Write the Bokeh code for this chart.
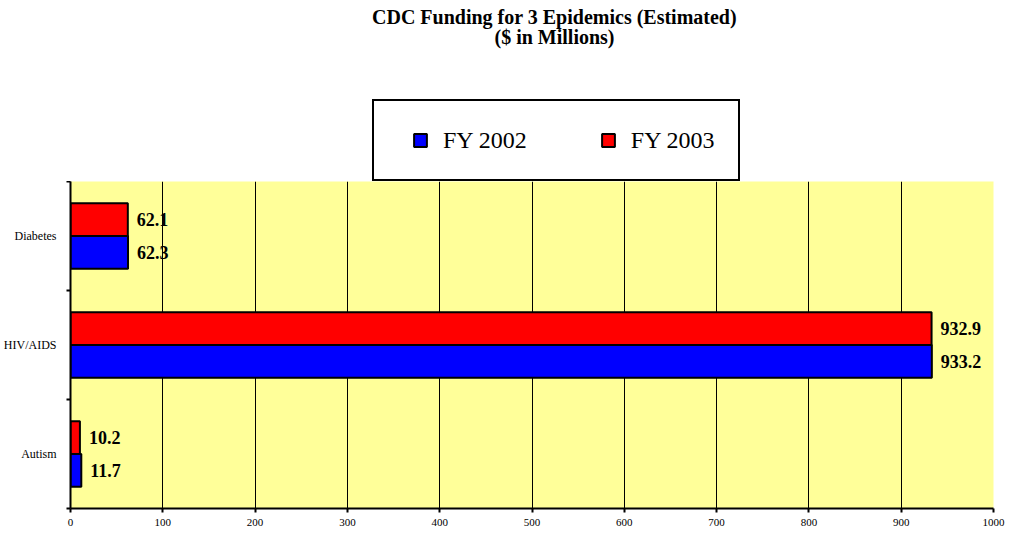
import numpy as np
from bokeh.plotting import figure
from bokeh.layouts import column
from bokeh.models import (ColumnDataSource, FixedTicker, LabelSet, Label,
                          Legend, LegendItem, Range1d)
from bokeh.transform import dodge
from bokeh.embed import file_html
from bokeh.resources import INLINE

# ---- data (bottom to top) ----
categories = ["Autism", "HIV/AIDS", "Diabetes"]
fy2002 = [11.7, 933.2, 62.3]
fy2003 = [10.2, 932.9, 62.1]
series_names = ["FY 2002", "FY 2003"]
x_ticks = [0, 100, 200, 300, 400, 500, 600, 700, 800, 900, 1000]
title_lines = ["CDC Funding for 3 Epidemics (Estimated)", "($ in Millions)"]
colors = ["#0000FF", "#FF0000"]

SERIF = "Liberation Serif"
W = 1006
HEAD_H = 181
MAIN_H = 354
BL, BR = 63, 13
pos = [i + 0.5 for i in range(len(categories))]

src = ColumnDataSource(dict(
    cat=categories, y=pos, fy2002=fy2002, fy2003=fy2003,
    lab02=[f"{v:.1f}" for v in fy2002], lab03=[f"{v:.1f}" for v in fy2003],
))

# ---------- header: title + legend ----------
head = figure(width=W, height=HEAD_H, x_range=Range1d(0, 1), y_range=Range1d(0, 1),
              output_backend="svg", toolbar_location=None, title=None,
              x_axis_type=None, y_axis_type=None,
              min_border_left=BL, min_border_right=BR, min_border_top=0, min_border_bottom=0)
head.grid.visible = False
head.outline_line_color = None
head.background_fill_color = "white"
head.border_fill_color = "white"

# screen units are measured from the frame's lower-left corner
for txt, yy in zip(title_lines, (164.5, 145)):
    head.add_layout(Label(x=484, y=yy, x_units="screen", y_units="screen", text=txt,
                          text_align="center", text_baseline="middle",
                          text_font=SERIF, text_font_style="bold", text_font_size="20px",
                          text_color="black"))

# hidden helper renderers that only supply the legend swatches
m02 = head.scatter(x="fy2002", y="y", source=src, marker="square", fill_color=colors[0],
                   line_color="black", line_width=2, visible=False)
m03 = head.scatter(x="fy2003", y="y", source=src, marker="square", fill_color=colors[1],
                   line_color="black", line_width=2, visible=False)
legend = Legend(items=[LegendItem(label=series_names[0], renderers=[m02]),
                       LegendItem(label=series_names[1], renderers=[m03])],
                orientation="horizontal", location=(302, 0),
                glyph_width=46, glyph_height=32, label_standoff=0, spacing=58,
                padding=23, margin=0,
                inactive_fill_alpha=0.0,
                label_text_font=SERIF, label_text_font_size="24px", label_text_color="black",
                border_line_color="black", border_line_width=2, border_line_alpha=1.0,
                background_fill_color="white", background_fill_alpha=1.0)
head.add_layout(legend)

# ---------- main bar chart ----------
p = figure(width=W, height=MAIN_H, x_range=Range1d(x_ticks[0], x_ticks[-1]),
           y_range=Range1d(0, len(categories)), output_backend="svg",
           toolbar_location=None, title=None,
           min_border_left=BL, min_border_right=BR, min_border_top=0, min_border_bottom=27)
p.background_fill_color = "#FFFF99"
p.border_fill_color = "white"
p.outline_line_color = None

p.hbar(y=dodge("y", -0.15), left=0, right="fy2002", height=0.3, source=src,
       fill_color=colors[0], line_color="black", line_width=2)
p.hbar(y=dodge("y", 0.15), left=0, right="fy2003", height=0.3, source=src,
       fill_color=colors[1], line_color="black", line_width=2)

for field, lab, off in (("fy2002", "lab02", -0.15), ("fy2003", "lab03", 0.15)):
    p.add_layout(LabelSet(x=field, y=dodge("y", off), text=lab, source=src,
                          x_offset=9, text_baseline="middle", text_align="left",
                          text_font=SERIF, text_font_style="bold",
                          text_font_size="18px", text_color="black"))

xa = p.xaxis[0]
xa.ticker = FixedTicker(ticks=x_ticks)
xa.axis_line_width = 2
xa.axis_line_color = "black"
xa.major_tick_out = 4
xa.major_tick_in = 0
xa.major_tick_line_width = 2
xa.minor_tick_line_color = None
xa.major_label_text_font = SERIF
xa.major_label_text_font_size = "11px"
xa.major_label_text_color = "black"
xa.major_label_standoff = 6

ya = p.yaxis[0]
ya.ticker = FixedTicker(ticks=pos, minor_ticks=list(range(len(categories) + 1)))
ya.major_label_overrides = {float(v): c for v, c in zip(pos, categories)}
ya.axis_line_width = 2
ya.axis_line_color = "black"
ya.major_tick_out = 0
ya.major_tick_in = 0
ya.minor_tick_out = 4
ya.minor_tick_in = 0
ya.minor_tick_line_width = 2
ya.minor_tick_line_color = "black"
ya.major_label_text_font = SERIF
ya.major_label_text_font_size = "12px"
ya.major_label_text_color = "black"
ya.major_label_standoff = 10

p.ygrid.visible = False
p.xgrid.ticker = FixedTicker(ticks=x_ticks[1:-1])
p.xgrid.grid_line_color = "black"
p.xgrid.grid_line_width = 1

layout = column(head, p, spacing=0)
open("out.html", "w").write(file_html(layout, INLINE))
